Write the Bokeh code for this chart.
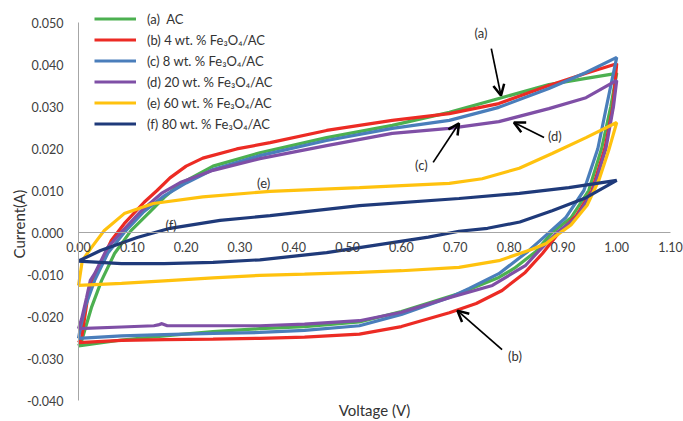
import math
from bokeh.plotting import figure
from bokeh.models import (FixedTicker, NumeralTickFormatter, Legend, LegendItem,
                          Arrow, OpenHead, Label)
from bokeh.embed import file_html
from bokeh.resources import INLINE

FONT = "Lato"

# ---------------- data ----------------
x_ticks = [0.0, 0.1, 0.2, 0.3, 0.4, 0.5, 0.6, 0.7, 0.8, 0.9, 1.0, 1.1]
y_ticks = [-0.04, -0.03, -0.02, -0.01, 0.0, 0.01, 0.02, 0.03, 0.04, 0.05]

labels = ["(a)  AC", "(b) 4 wt. % Fe\u2083O\u2084/AC", "(c) 8 wt. % Fe\u2083O\u2084/AC",
          "(d) 20 wt. % Fe\u2083O\u2084/AC", "(e) 60 wt. % Fe\u2083O\u2084/AC",
          "(f) 80 wt. % Fe\u2083O\u2084/AC"]
colors = ["#4CB050", "#EC2B24", "#4A7EBB", "#7F4FA6", "#FFC20E", "#1F3A7A"]

# (a) AC
a_v = [0.0, 0.006, 0.024, 0.043, 0.067, 0.098, 0.135, 0.159, 0.189, 0.25, 0.337, 0.461, 0.583, 0.689, 0.781, 0.874, 0.943, 1.0,
       0.989, 0.972, 0.948, 0.915, 0.88, 0.85, 0.81, 0.781, 0.707, 0.6, 0.522, 0.42, 0.337, 0.25, 0.17, 0.08, 0.0]
a_i = [-0.0270, -0.0257, -0.0179, -0.0114, -0.0050, 0.0005, 0.0052, 0.0083, 0.0116, 0.0158, 0.0190, 0.0226, 0.0255, 0.0286, 0.0319, 0.0352, 0.0367, 0.0379,
       0.0300, 0.0200, 0.0100, 0.0035, 0.0000, -0.0045, -0.0085, -0.0107, -0.0145, -0.0188, -0.0213, -0.0224, -0.0229, -0.0236, -0.0245, -0.0256, -0.0270]

# (b) 4 wt.%
b_v = [0.0, 0.006, 0.017, 0.026, 0.035, 0.061, 0.085, 0.122, 0.146, 0.17, 0.2, 0.231, 0.294, 0.356, 0.461, 0.583, 0.689, 0.781, 0.874, 0.943, 1.0,
       0.993, 0.978, 0.954, 0.925, 0.893, 0.862, 0.83, 0.787, 0.739, 0.689, 0.6, 0.522, 0.42, 0.337, 0.25, 0.16, 0.08, 0.0]
b_i = [-0.0262, -0.0250, -0.0155, -0.0114, -0.0090, -0.0019, 0.0021, 0.0072, 0.0100, 0.0130, 0.0158, 0.0177, 0.0199, 0.0214, 0.0243, 0.0267, 0.0283, 0.0307, 0.0350, 0.0379, 0.0402,
       0.0300, 0.0200, 0.0100, 0.0040, 0.0000, -0.0050, -0.0095, -0.0138, -0.0169, -0.0191, -0.0224, -0.0242, -0.0249, -0.0252, -0.0254, -0.0255, -0.0257, -0.0262]

# (c) 8 wt.%
c_v = [0.0, 0.004, 0.013, 0.03, 0.055, 0.085, 0.12, 0.16, 0.2, 0.25, 0.337, 0.461, 0.583, 0.689, 0.781, 0.874, 0.943, 1.0,
       0.981, 0.965, 0.939, 0.905, 0.87, 0.835, 0.781, 0.726, 0.689, 0.6, 0.522, 0.42, 0.337, 0.25, 0.159, 0.08, 0.0]
c_i = [-0.0252, -0.0225, -0.0175, -0.0114, -0.0048, 0.0000, 0.0048, 0.0088, 0.0118, 0.0150, 0.0183, 0.0219, 0.0248, 0.0267, 0.0298, 0.0343, 0.0381, 0.0417,
       0.0300, 0.0200, 0.0100, 0.0035, -0.0005, -0.0045, -0.0098, -0.0133, -0.0155, -0.0195, -0.0222, -0.0233, -0.0238, -0.0240, -0.0243, -0.0246, -0.0252]

# (d) 20 wt.%
d_v = [0.0, 0.006, 0.015, 0.022, 0.03, 0.054, 0.079, 0.117, 0.154, 0.189, 0.25, 0.337, 0.461, 0.583, 0.689, 0.781, 0.874, 0.943, 1.0,
       0.994, 0.98, 0.956, 0.925, 0.889, 0.856, 0.831, 0.769, 0.689, 0.6, 0.522, 0.42, 0.337, 0.25, 0.165, 0.155, 0.148, 0.14, 0.08, 0.0]
d_i = [-0.0229, -0.0205, -0.0155, -0.0114, -0.0098, -0.0036, 0.0000, 0.0052, 0.0093, 0.0119, 0.0148, 0.0176, 0.0207, 0.0236, 0.0248, 0.0264, 0.0295, 0.0321, 0.0362,
       0.0300, 0.0200, 0.0100, 0.0035, 0.0000, -0.0043, -0.0078, -0.0126, -0.0155, -0.0190, -0.0210, -0.0218, -0.0222, -0.0222, -0.0222, -0.0217, -0.0220, -0.0222, -0.0225, -0.0229]

# (e) 60 wt.%
e_v = [0.0, 0.002, 0.007, 0.024, 0.048, 0.085, 0.139, 0.231, 0.356, 0.522, 0.689, 0.75, 0.819, 0.88, 0.943, 1.0,
       0.985, 0.967, 0.945, 0.915, 0.887, 0.869, 0.843, 0.781, 0.707, 0.6, 0.522, 0.42, 0.337, 0.25, 0.159, 0.08, 0.0]
e_i = [-0.0126, -0.0110, -0.0067, -0.0036, 0.0005, 0.0045, 0.0069, 0.0085, 0.0098, 0.0107, 0.0117, 0.0128, 0.0153, 0.0188, 0.0226, 0.0262,
       0.0195, 0.0125, 0.0065, 0.0018, -0.0008, -0.0026, -0.0040, -0.0067, -0.0083, -0.0091, -0.0095, -0.0099, -0.0102, -0.0108, -0.0115, -0.0121, -0.0126]

# (f) 80 wt.%
f_v = [0.0, 0.041, 0.109, 0.17, 0.263, 0.356, 0.522, 0.707, 0.819, 0.911, 1.0,
       0.943, 0.88, 0.82, 0.76, 0.707, 0.65, 0.583, 0.461, 0.337, 0.25, 0.159, 0.08, 0.0]
f_i = [-0.0068, -0.0043, -0.0012, 0.0010, 0.0029, 0.0040, 0.0064, 0.0081, 0.0093, 0.0107, 0.0124,
       0.0083, 0.0052, 0.0025, 0.0010, 0.0003, -0.0011, -0.0024, -0.0048, -0.0065, -0.0071, -0.0074, -0.0074, -0.0068]

series_v = [a_v, b_v, c_v, d_v, e_v, f_v]
series_i = [a_i, b_i, c_i, d_i, e_i, f_i]

x_title = "Voltage (V)"
y_title = "Current(A)"

# annotations: text, label x, label y
note_text = ["(a)", "(b)", "(c)", "(d)", "(e)", "(f)"]
note_x = [0.748, 0.811, 0.637, 0.885, 0.344, 0.172]
note_y = [0.0474, -0.0295, 0.0160, 0.0229, 0.0117, 0.0019]
# arrows: start x, start y, end x, end y
arrow_x0 = [0.767, 0.787, 0.659, 0.865]
arrow_y0 = [0.0438, -0.0279, 0.0167, 0.0226]
arrow_x1 = [0.785, 0.704, 0.707, 0.809]
arrow_y1 = [0.0326, -0.0186, 0.0260, 0.0262]

# ---------------- figure ----------------
W, H = 683, 421
p = figure(width=W, height=H, x_range=(-0.1449, 1.1241), y_range=(-0.0450, 0.05524),
           output_backend="svg", toolbar_location=None,
           min_border_left=0, min_border_right=0, min_border_top=0, min_border_bottom=0)
p.grid.visible = False
p.outline_line_color = None
p.background_fill_color = "white"

axis_color = "#A6A6A6"
text_color = "#404040"

p.xaxis.fixed_location = 0
p.yaxis.fixed_location = 0
p.xaxis.bounds = (0, 1.1)
p.xaxis.ticker = FixedTicker(ticks=x_ticks)
p.xaxis.formatter = NumeralTickFormatter(format="0.00")
p.yaxis.bounds = (-0.04, 0.05)
p.yaxis.ticker = FixedTicker(ticks=y_ticks)
p.yaxis.formatter = NumeralTickFormatter(format="0.000")
for ax in (p.xaxis, p.yaxis):
    ax.axis_line_color = axis_color
    ax.axis_line_width = 1
    ax.major_tick_line_color = None
    ax.minor_tick_line_color = None
    ax.major_tick_out = 0
    ax.major_tick_in = 0
    ax.major_label_text_font = FONT
    ax.major_label_text_font_size = "12.5px"
    ax.major_label_text_color = text_color
p.xaxis.major_label_standoff = 9
p.yaxis.major_label_standoff = 15

p.add_layout(Label(x=0.55, y=12, y_units="screen", text=x_title, text_align="center",
                   text_baseline="middle", text_font=FONT, text_font_size="15px",
                   text_color="#333333"))
p.add_layout(Label(x=18, x_units="screen", y=0.002, text=y_title, angle=math.pi / 2,
                   text_align="center", text_baseline="middle", text_font=FONT,
                   text_font_size="15px", text_color="#333333"))

items = []
for v, i, c, lab in zip(series_v, series_i, colors, labels):
    r = p.line(v, i, line_color=c, line_width=3.2)
    items.append(LegendItem(label=lab, renderers=[r]))

legend = Legend(items=items, location=(94, 289), glyph_width=42, glyph_height=17,
                label_height=17, spacing=4, padding=3, margin=0, label_standoff=11,
                label_text_font=FONT, label_text_font_size="13px", label_text_color="#333333",
                border_line_color=None, background_fill_alpha=0)
p.add_layout(legend)

for t, x, y in zip(note_text, note_x, note_y):
    p.add_layout(Label(x=x, y=y, text=t, text_align="center", text_baseline="middle",
                       text_font=FONT, text_font_size="13px", text_color="#333333"))

for x0, y0, x1, y1 in zip(arrow_x0, arrow_y0, arrow_x1, arrow_y1):
    p.add_layout(Arrow(x_start=x0, y_start=y0, x_end=x1, y_end=y1, line_color="black",
                       line_width=1.7,
                       end=OpenHead(size=11, line_width=2.5, line_color="black")))

open("out.html", "w").write(file_html(p, INLINE))
